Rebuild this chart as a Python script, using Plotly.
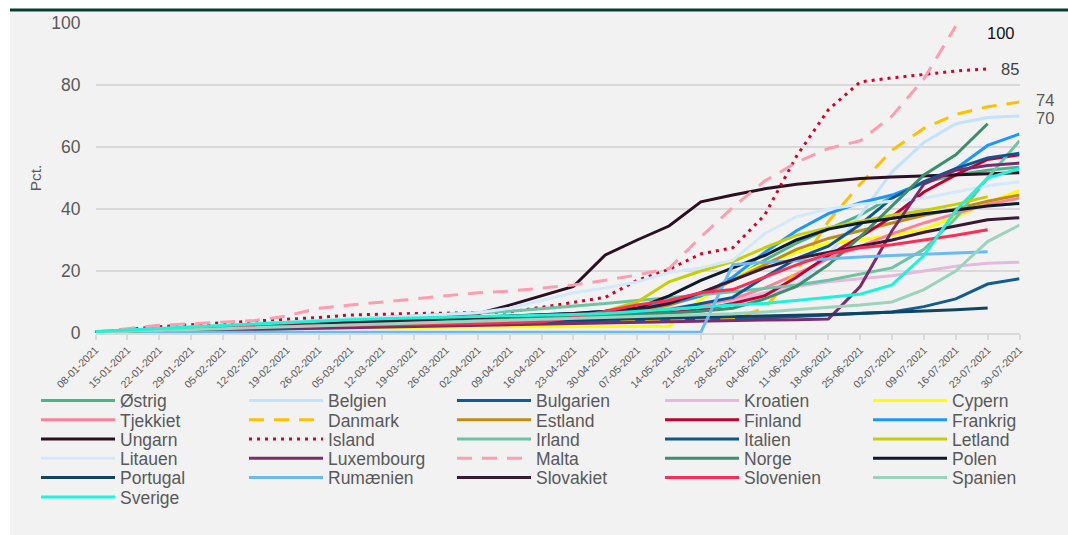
import plotly.graph_objects as go

dates = ["08-01-2021", "15-01-2021", "22-01-2021", "29-01-2021", "05-02-2021", "12-02-2021",
         "19-02-2021", "26-02-2021", "05-03-2021", "12-03-2021", "19-03-2021", "26-03-2021",
         "02-04-2021", "09-04-2021", "16-04-2021", "23-04-2021", "30-04-2021", "07-05-2021",
         "14-05-2021", "21-05-2021", "28-05-2021", "04-06-2021", "11-06-2021", "18-06-2021",
         "25-06-2021", "02-07-2021", "09-07-2021", "16-07-2021", "23-07-2021", "30-07-2021"]

N = None
ostrig = [0.3,0.7,1.2,1.6,2.0,2.3,2.7,3.0,3.3,3.6,3.9,4.2,4.6,5.0,5.5,6.0,6.8,8.0,10,13,17,23.5,29,33.5,38,44,48.5,51,52.5,53.5]
belgien = [0.2,0.6,1.0,1.4,1.8,2.1,2.4,2.7,3.0,3.3,3.6,3.9,4.2,4.6,5.0,5.4,5.8,6.3,7.0,7.8,9,12,15.5,25,38,52,61.5,67.5,69.5,70]
bulgarien = [0.2,0.4,0.7,0.9,1.1,1.3,1.5,1.7,1.9,2.1,2.3,2.5,2.7,2.9,3.1,3.3,3.5,3.7,3.9,4.1,4.4,4.8,5.3,5.8,6.2,6.8,8.5,11,15.8,17.5]
kroatien = [0.2,0.5,0.9,1.2,1.5,1.8,2.1,2.4,2.7,3.0,3.3,3.6,4.0,4.4,4.9,5.5,6.2,7.0,8.0,9.2,10.5,13,15,16.5,17.5,18.5,20,21.5,22.5,22.8]
cypern = [0.3,0.6,0.9,1.1,1.3,1.4,1.5,1.6,1.7,1.8,1.8,1.9,1.9,2.0,2.0,2.0,2.0,2.1,2.2,11,18,22.5,26,29,30,31.5,33.5,37.5,42,46]
tjekkiet = [0.2,0.6,1.0,1.4,1.7,2.0,2.3,2.6,2.9,3.2,3.5,3.8,4.1,4.4,4.8,5.2,5.7,6.5,7.5,9,11,14.5,19,24,28,32,35.5,38.5,41.5,43.5]
danmark = [0.3,0.8,1.3,1.7,2.0,2.3,2.6,2.8,3.0,3.2,3.4,3.6,3.8,4.0,4.2,4.4,4.6,3.8,4.0,4.2,4.5,8,20,36,48,59,66,70.5,73,74.5]
estland = [0.3,0.7,1.1,1.5,1.9,2.3,2.7,3.1,3.5,3.9,4.3,4.7,5.0,5.3,5.6,5.9,6.3,7.2,9,12,17,22,27,30.5,33,35.5,38,40,42.5,44.5]
finland = [0.2,0.6,1.0,1.4,1.7,2.0,2.3,2.6,2.9,3.2,3.5,3.8,4.1,4.4,4.7,5.0,5.4,5.9,6.5,7.5,9.5,12,18,25,31,37.5,45.5,51,56,57.5]
frankrig = [0.2,0.5,0.9,1.3,1.7,2.1,2.5,2.9,3.3,3.7,4.1,4.5,4.9,5.3,5.8,6.3,7.0,8.0,9.5,12,18,26,33,38.5,42,44.5,48.5,53,60.5,64.2]
ungarn = [0.3,0.8,1.4,1.9,2.4,2.9,3.3,3.7,4.1,4.6,5.1,5.6,6.2,9.0,12.0,15.0,25.2,30,34.5,42.3,44.5,46.5,48,49,49.8,50.3,50.7,51.1,51.4,51.7]
island = [0.3,1.2,2.0,2.7,3.3,3.8,4.3,5.0,5.8,6.1,6.3,6.4,6.5,6.8,8.3,10,11.5,17,20.5,25.5,27.5,38,57,72,81,82.3,83.5,84.5,85.2,N]
irland = [0.3,0.8,1.3,1.8,2.3,2.8,3.3,3.8,4.3,4.8,5.3,5.8,6.3,7.0,7.8,8.6,9.5,10.5,11.3,12.3,13.3,14.3,15.5,17,19,21,27,37,50,62]
italien = [0.2,0.6,1.0,1.4,1.8,2.1,2.4,2.7,3.0,3.3,3.6,3.9,4.2,4.5,4.9,5.3,5.8,6.5,7.5,9.5,11.5,18,24,28,35,43.5,48.8,53,56.5,58]
letland = [0.2,0.5,0.8,1.1,1.4,1.7,2.0,2.3,2.6,2.9,3.2,3.5,3.8,4.1,4.5,5.0,7.0,10,16.5,20,23,27.5,31.5,34,36,38,39.5,41.5,44,N]
litauen = [0.3,0.8,1.5,2.0,2.5,3.0,3.5,4.0,4.5,5.0,5.5,6.0,6.5,8.0,10.5,13,14.5,16.5,19.5,21,23.5,32,37.5,40,41.5,42.5,43.5,45.5,47.5,48.8]
luxembourg = [0.2,0.4,0.6,0.8,1.0,1.2,1.4,1.6,1.8,2.0,2.2,2.4,2.6,2.8,3.0,3.2,3.4,3.6,3.8,4.0,4.1,4.2,4.3,4.5,15,33,48,52.5,54,54.8]
malta = [0.3,1.5,2.5,3.0,3.5,4.0,5.5,8.0,9.0,10,11,12,13,13.5,14.5,15.5,17,18.7,20.8,31,40.5,49,55,59.5,62,70,82,99,N,N]
norge = [0.2,0.5,0.9,1.3,1.7,2.1,2.5,2.9,3.3,3.6,3.9,4.2,4.5,4.8,5.1,5.4,5.7,6.0,6.4,7,8,11,15,22,31,41,51,57.5,67.5,N]
polen = [0.2,0.6,1.0,1.4,1.8,2.2,2.6,3.0,3.4,3.8,4.2,4.6,5.0,5.4,5.8,6.3,7.0,8.0,12,17,21,25,30,33.5,35.5,37,38.5,39.7,41,41.8]
portugal = [0.2,0.5,0.8,1.1,1.4,1.7,2.0,2.3,2.6,2.9,3.1,3.3,3.5,3.7,3.9,4.1,4.3,4.5,4.7,4.9,5.1,5.4,5.7,6.0,6.3,6.7,7.1,7.5,8.1,N]
rumaenien = [0.2,0.2,0.2,0.2,0.2,0.2,0.2,0.2,0.2,0.2,0.2,0.2,0.2,0.2,0.2,0.2,0.2,0.2,0.2,0.3,22,22.8,23.3,24,24.5,25,25.5,25.8,26.2,N]
slovakiet = [0.2,0.5,0.9,1.3,1.7,2.1,2.5,2.9,3.3,3.7,4.1,4.5,4.9,5.3,5.7,6.1,6.6,7.5,9.5,13,17,21,24,26,28,30,32.5,34.5,36.5,37.2]
slovenien = [0.3,0.7,1.1,1.4,1.7,2.0,2.2,2.4,2.6,2.8,2.9,3.0,3.1,3.3,3.6,5.0,7.0,9.0,10.5,13,14,18,22,25.5,27.5,28.5,30,31.5,33.3,N]
spanien = [0.2,0.5,0.8,1.1,1.4,1.7,2.0,2.3,2.6,2.9,3.2,3.5,3.8,4.1,4.4,4.7,5.0,5.3,5.6,5.9,6.2,6.8,7.5,8.2,9,10,14,20,29.5,34.8]
sverige = [0.5,1.0,1.5,2.0,2.5,3.0,3.5,4.0,4.3,4.6,4.8,5.0,5.2,5.5,5.8,6.0,6.3,7.0,7.5,8.3,9.0,9.5,10.5,11.5,12.5,15.5,25,39.5,50,53]

countries = ["Østrig", "Belgien", "Bulgarien", "Kroatien", "Cypern",
             "Tjekkiet", "Danmark", "Estland", "Finland", "Frankrig",
             "Ungarn", "Island", "Irland", "Italien", "Letland",
             "Litauen", "Luxembourg", "Malta", "Norge", "Polen",
             "Portugal", "Rumænien", "Slovakiet", "Slovenien", "Spanien",
             "Sverige"]
series = [ostrig, belgien, bulgarien, kroatien, cypern,
          tjekkiet, danmark, estland, finland, frankrig,
          ungarn, island, irland, italien, letland,
          litauen, luxembourg, malta, norge, polen,
          portugal, rumaenien, slovakiet, slovenien, spanien,
          sverige]
colors = ["#4fb28a", "#c3e2fb", "#135d8e", "#e6b9dc", "#ffff00",
          "#ff8099", "#ffc000", "#c08c16", "#c2002f", "#1a98ff",
          "#2a1020", "#d4002e", "#6cc4a4", "#0a5792", "#c5d000",
          "#d3e9fb", "#7a2d6c", "#ff9db0", "#3c8e6e", "#0c1a2b",
          "#0e4566", "#6abaf8", "#3a1a33", "#ff2d55", "#9ad4bc",
          "#1ef2d8"]
dashes = {"Danmark": "15px,10px", "Malta": "15px,10px", "Island": "3px,5px"}

end_label_series = ["Malta", "Island", "Danmark", "Belgien"]
end_label_text = ["100", "85", "74", "70"]
end_label_color = ["#111111", "#404040", "#595959", "#595959"]

FONT = "Liberation Sans, Arial, sans-serif"
GREY = "#595959"

W, H = 1068, 535
ml, mr, mt, mb = 10, 0, 23, 202
pw = W - ml - mr
ph = H - mt - mb
x0 = (95.5 - ml) / pw
x1 = (1019.5 - ml) / pw

def py(pix):
    return (H - mb - pix) / ph

def px(pix):
    return (pix - ml) / pw

PER_ROW = 5
row_centers = [400.5, 419.8, 439.1, 458.4, 477.7, 497]
legend_ids = ["legend"] + ["legend%d" % k for k in range(2, 7)]

fig = go.Figure()
for i, (name, vals, col) in enumerate(zip(countries, series, colors)):
    fig.add_trace(go.Scatter(
        x=dates, y=vals, name=name, mode="lines",
        line=dict(color=col, width=3, dash=dashes.get(name, "solid")),
        legend=legend_ids[i // PER_ROW],
    ))

# end-of-line value labels
shifts = {"Malta": (30, -7), "Island": (12, 0), "Danmark": (15, 2), "Belgien": (15, -2)}
for sname, txt, tc in zip(end_label_series, end_label_text, end_label_color):
    vals = series[countries.index(sname)]
    last = max(i for i, v in enumerate(vals) if v is not None)
    xs, ys = shifts[sname]
    fig.add_annotation(x=dates[last], y=vals[last], text=txt, showarrow=False,
                       xanchor="left", yanchor="middle", xshift=xs, yshift=ys,
                       borderpad=0,
                       font=dict(family=FONT, size=16.5, color=tc))

# background panel + top rule
fig.add_shape(type="rect", xref="paper", yref="paper", x0=0, x1=1, y0=py(536), y1=py(11.5),
              fillcolor="#f2f2f2", line=dict(width=0), layer="below")
fig.add_shape(type="rect", xref="paper", yref="paper", x0=0, x1=1, y0=py(11.5), y1=py(8.5),
              fillcolor="#063f31", line=dict(width=0), layer="below")

legend_common = dict(orientation="h", xanchor="left", yanchor="middle",
                     font=dict(family=FONT, size=17.5, color=GREY),
                     itemwidth=74, entrywidth=119, entrywidthmode="pixels",
                     bgcolor="rgba(0,0,0,0)", borderwidth=0)
legends = {}
for k, lid in enumerate(legend_ids):
    legends[lid] = dict(legend_common, x=px(36), y=py(row_centers[k]))

fig.update_layout(
    width=W, height=H,
    margin=dict(l=ml, r=mr, t=mt, b=mb, autoexpand=False),
    paper_bgcolor="white", plot_bgcolor="rgba(0,0,0,0)",
    font=dict(family=FONT, color=GREY),
    showlegend=True,
    xaxis=dict(domain=[x0, x1], type="category", range=[0, 29], automargin=False,
               tickmode="array", tickvals=dates, ticktext=dates, tickangle=-45,
               tickfont=dict(family=FONT, size=10.5, color=GREY),
               showgrid=False, showline=True, linecolor="#d9d9d9", linewidth=1.5,
               ticks="outside", ticklen=5, tickcolor="#d9d9d9", tickwidth=1.5,
               zeroline=False),
    yaxis=dict(range=[0, 100], tickvals=[0, 20, 40, 60, 80, 100], automargin=False,
               tickfont=dict(family=FONT, size=17.5, color=GREY),
               showgrid=True, gridcolor="#d9d9d9", gridwidth=1.5,
               zeroline=False, showline=False, ticks="", ticklabelstandoff=14,
               title=dict(text="Pct.", font=dict(family=FONT, size=15.5, color=GREY), standoff=5)),
    **legends,
)

fig.write_html("out.html", config={"displayModeBar": False},
               post_script="document.body.style.margin='0px';document.body.style.overflow='hidden';")
